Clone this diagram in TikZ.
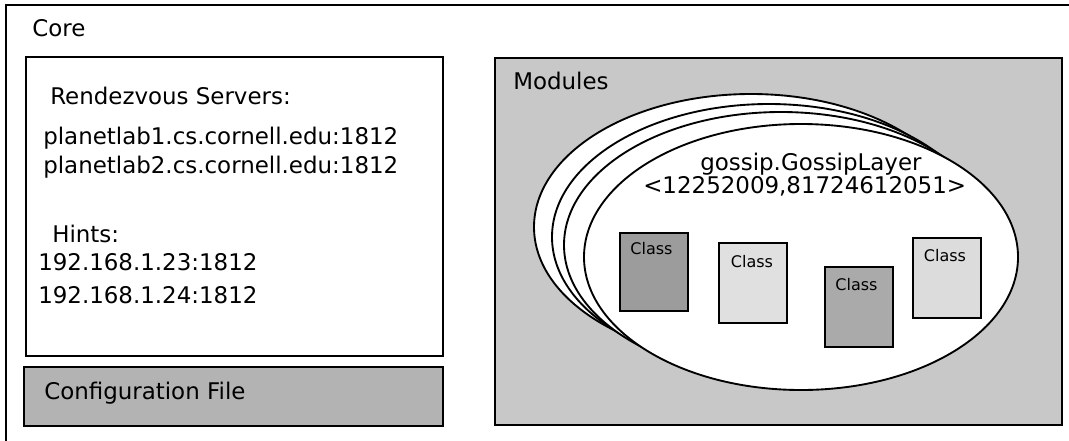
\documentclass[tikz,border=0pt]{standalone}
\usepackage{fontspec}
\setmainfont{DejaVu Sans}
\usetikzlibrary{calc}
\definecolor{modgray}{HTML}{C8C8C8}
\definecolor{cfggray}{HTML}{B3B3B3}
\definecolor{darkcls}{HTML}{9C9C9C}
\definecolor{darkcls2}{HTML}{AAAAAA}
\definecolor{lightcls}{HTML}{E0E0E0}
\definecolor{lightcls2}{HTML}{DCDCDC}
\tikzset{
  frame/.style={draw=black, line width=1.5pt},
  txt/.style={anchor=base west, inner sep=0pt, font=\fontsize{17.2pt}{20pt}\selectfont},
  ctxt/.style={anchor=base, inner sep=0pt, font=\fontsize{17.2pt}{20pt}\selectfont},
  clsbox/.style={draw=black, line width=1.5pt, minimum width=51pt, minimum height=59pt, inner sep=0pt},
  clslbl/.style={anchor=base, inner sep=0pt, font=\fontsize{12pt}{14pt}\selectfont},
  lay/.style={draw=black, line width=1.4pt, fill=white}
}
\begin{document}
\begin{tikzpicture}[x=0.75pt, y=-0.75pt]
\useasboundingbox (0,0) rectangle (1069,440);
\clip (0,0) rectangle (1069,440);
\fill[white] (0,0) rectangle (1069,440);
% Core outer frame
\draw[frame] (6,5) rectangle (1090,460);
\node[txt] (core) at (32,36) {Core};
% left white box
\draw[frame, fill=white] (26,57) rectangle (443,356);
\node[txt] (rs) at (50,104) {Rendezvous Servers:};
\node[txt] (p1) at (43,144) {planetlab1.cs.cornell.edu:1812};
\node[txt] (p2) at (43,173) {planetlab2.cs.cornell.edu:1812};
\node[txt] (hints) at (52,242) {Hints:};
\node[txt] (h1) at (38,270) {192.168.1.23:1812};
\node[txt] (h2) at (38,303) {192.168.1.24:1812};
% config file
\draw[frame, fill=cfggray] (24,367) rectangle (443,426);
\node[txt] (cfg) at (44,399) {Configuration File};
% modules
\draw[frame, fill=modgray] (495,58) rectangle (1062,425);
\node[txt] (mod) at (513,89) {Modules};
% layered ellipses
\draw[lay] (751,227) ellipse [x radius=217, y radius=133];
\draw[lay] (769,237) ellipse [x radius=217, y radius=133];
\draw[lay] (781,245) ellipse [x radius=217, y radius=133];
\draw[lay] (801,257) ellipse [x radius=217, y radius=133];
\node[txt] (gl) at (700,170) {gossip.GossipLayer};
\node[txt] (gid) at (643,193) {<12252009,81724612051>};
% classes
\node[clsbox, fill=darkcls, minimum height=58.5pt] (c1) at (653.5,271.5) {};
\node[clsbox, fill=lightcls, minimum height=60pt] (c2) at (753,283) {};
\node[clsbox, fill=darkcls2, minimum height=60pt] (c3) at (858.5,307) {};
\node[clsbox, fill=lightcls2, minimum height=60pt] (c4) at (947,278) {};
\node[clslbl] at ($(c1.north)+(-2,23)$) {Class};
\node[clslbl] at ($(c2.north)+(-1,25)$) {Class};
\node[clslbl] at ($(c3.north)+(-2,24)$) {Class};
\node[clslbl] at ($(c4.north)+(-2,24)$) {Class};
\end{tikzpicture}
\end{document}
